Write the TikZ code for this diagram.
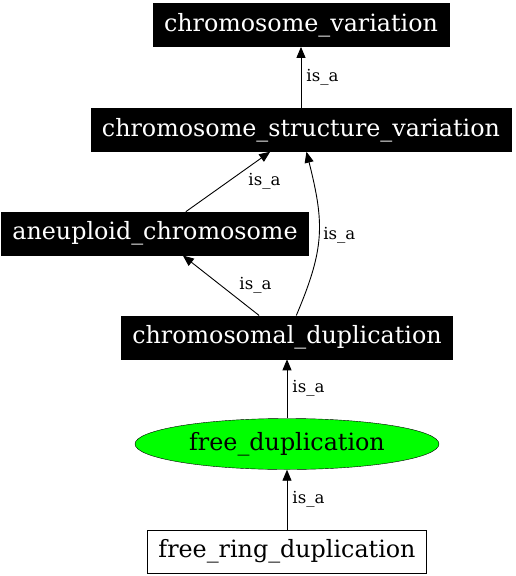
\documentclass[tikz,border=0pt]{standalone}
\usepackage{fontspec}
\setmainfont{DejaVu Serif}
\usepackage{tikz}
\usetikzlibrary{positioning,shapes,arrows.meta}
\definecolor{brightgreen}{rgb}{0,1,0}
\tikzstyle{bl}=[%
      rectangle, draw=black, thick, fill=black, text=white,
      font=\fontsize{23.8}{28}\selectfont,
      minimum height=43pt, inner xsep=11pt, inner ysep=0pt
]
\tikzstyle{gr}=[%
      ellipse, draw=black, thin, fill=brightgreen,
      font=\fontsize{23.8}{28}\selectfont,
      minimum width=304pt, minimum height=51pt, inner sep=0pt
]
\tikzstyle{wt}=[%
      rectangle, draw=black, thick, fill=white,
      font=\fontsize{23.8}{28}\selectfont,
      minimum height=43pt, inner xsep=11pt, inner ysep=0pt
]
\tikzstyle{lb}=[%
      font=\fontsize{16.6}{20}\selectfont, inner sep=0pt
]
\begin{document}
\begin{tikzpicture}[x=1pt, y=-1pt,
    line width=0.9pt,
    -{Triangle[length=11pt,width=9pt]}
  ]
    \useasboundingbox (0,0) rectangle (516,576);

    \node[bl] (cv) at (301,25)                    {chromosome\_variation};
    \node[bl] (csv) [below=61pt of cv]            {chromosome\_structure\_variation};
    \node[bl] (an)  [below=60pt of csv, xshift=-146pt] {aneuploid\_chromosome};
    \node[bl] (cd)  [below=60pt of an, xshift=132pt]   {chromosomal\_duplication};
    \node[gr] (fd)  [below=59pt of cd]            {free\_duplication};
    \node[wt] (frd) [below=60pt of fd]            {free\_ring\_duplication};

    \path (csv) edge node[lb, right=5pt] {is\_a} (cv)
          (an)  edge node[lb, right=20pt] {is\_a} (csv)
          (cd)  edge node[lb, right=18pt] {is\_a} (an)
          (cd)  edge[out=67, in=-76, looseness=1.15] node[lb, right=4pt] {is\_a} (csv)
          (fd)  edge node[lb, right=5pt] {is\_a} (cd)
          (frd) edge node[lb, right=5pt] {is\_a} (fd)
    ;

  \end{tikzpicture}
\end{document}
